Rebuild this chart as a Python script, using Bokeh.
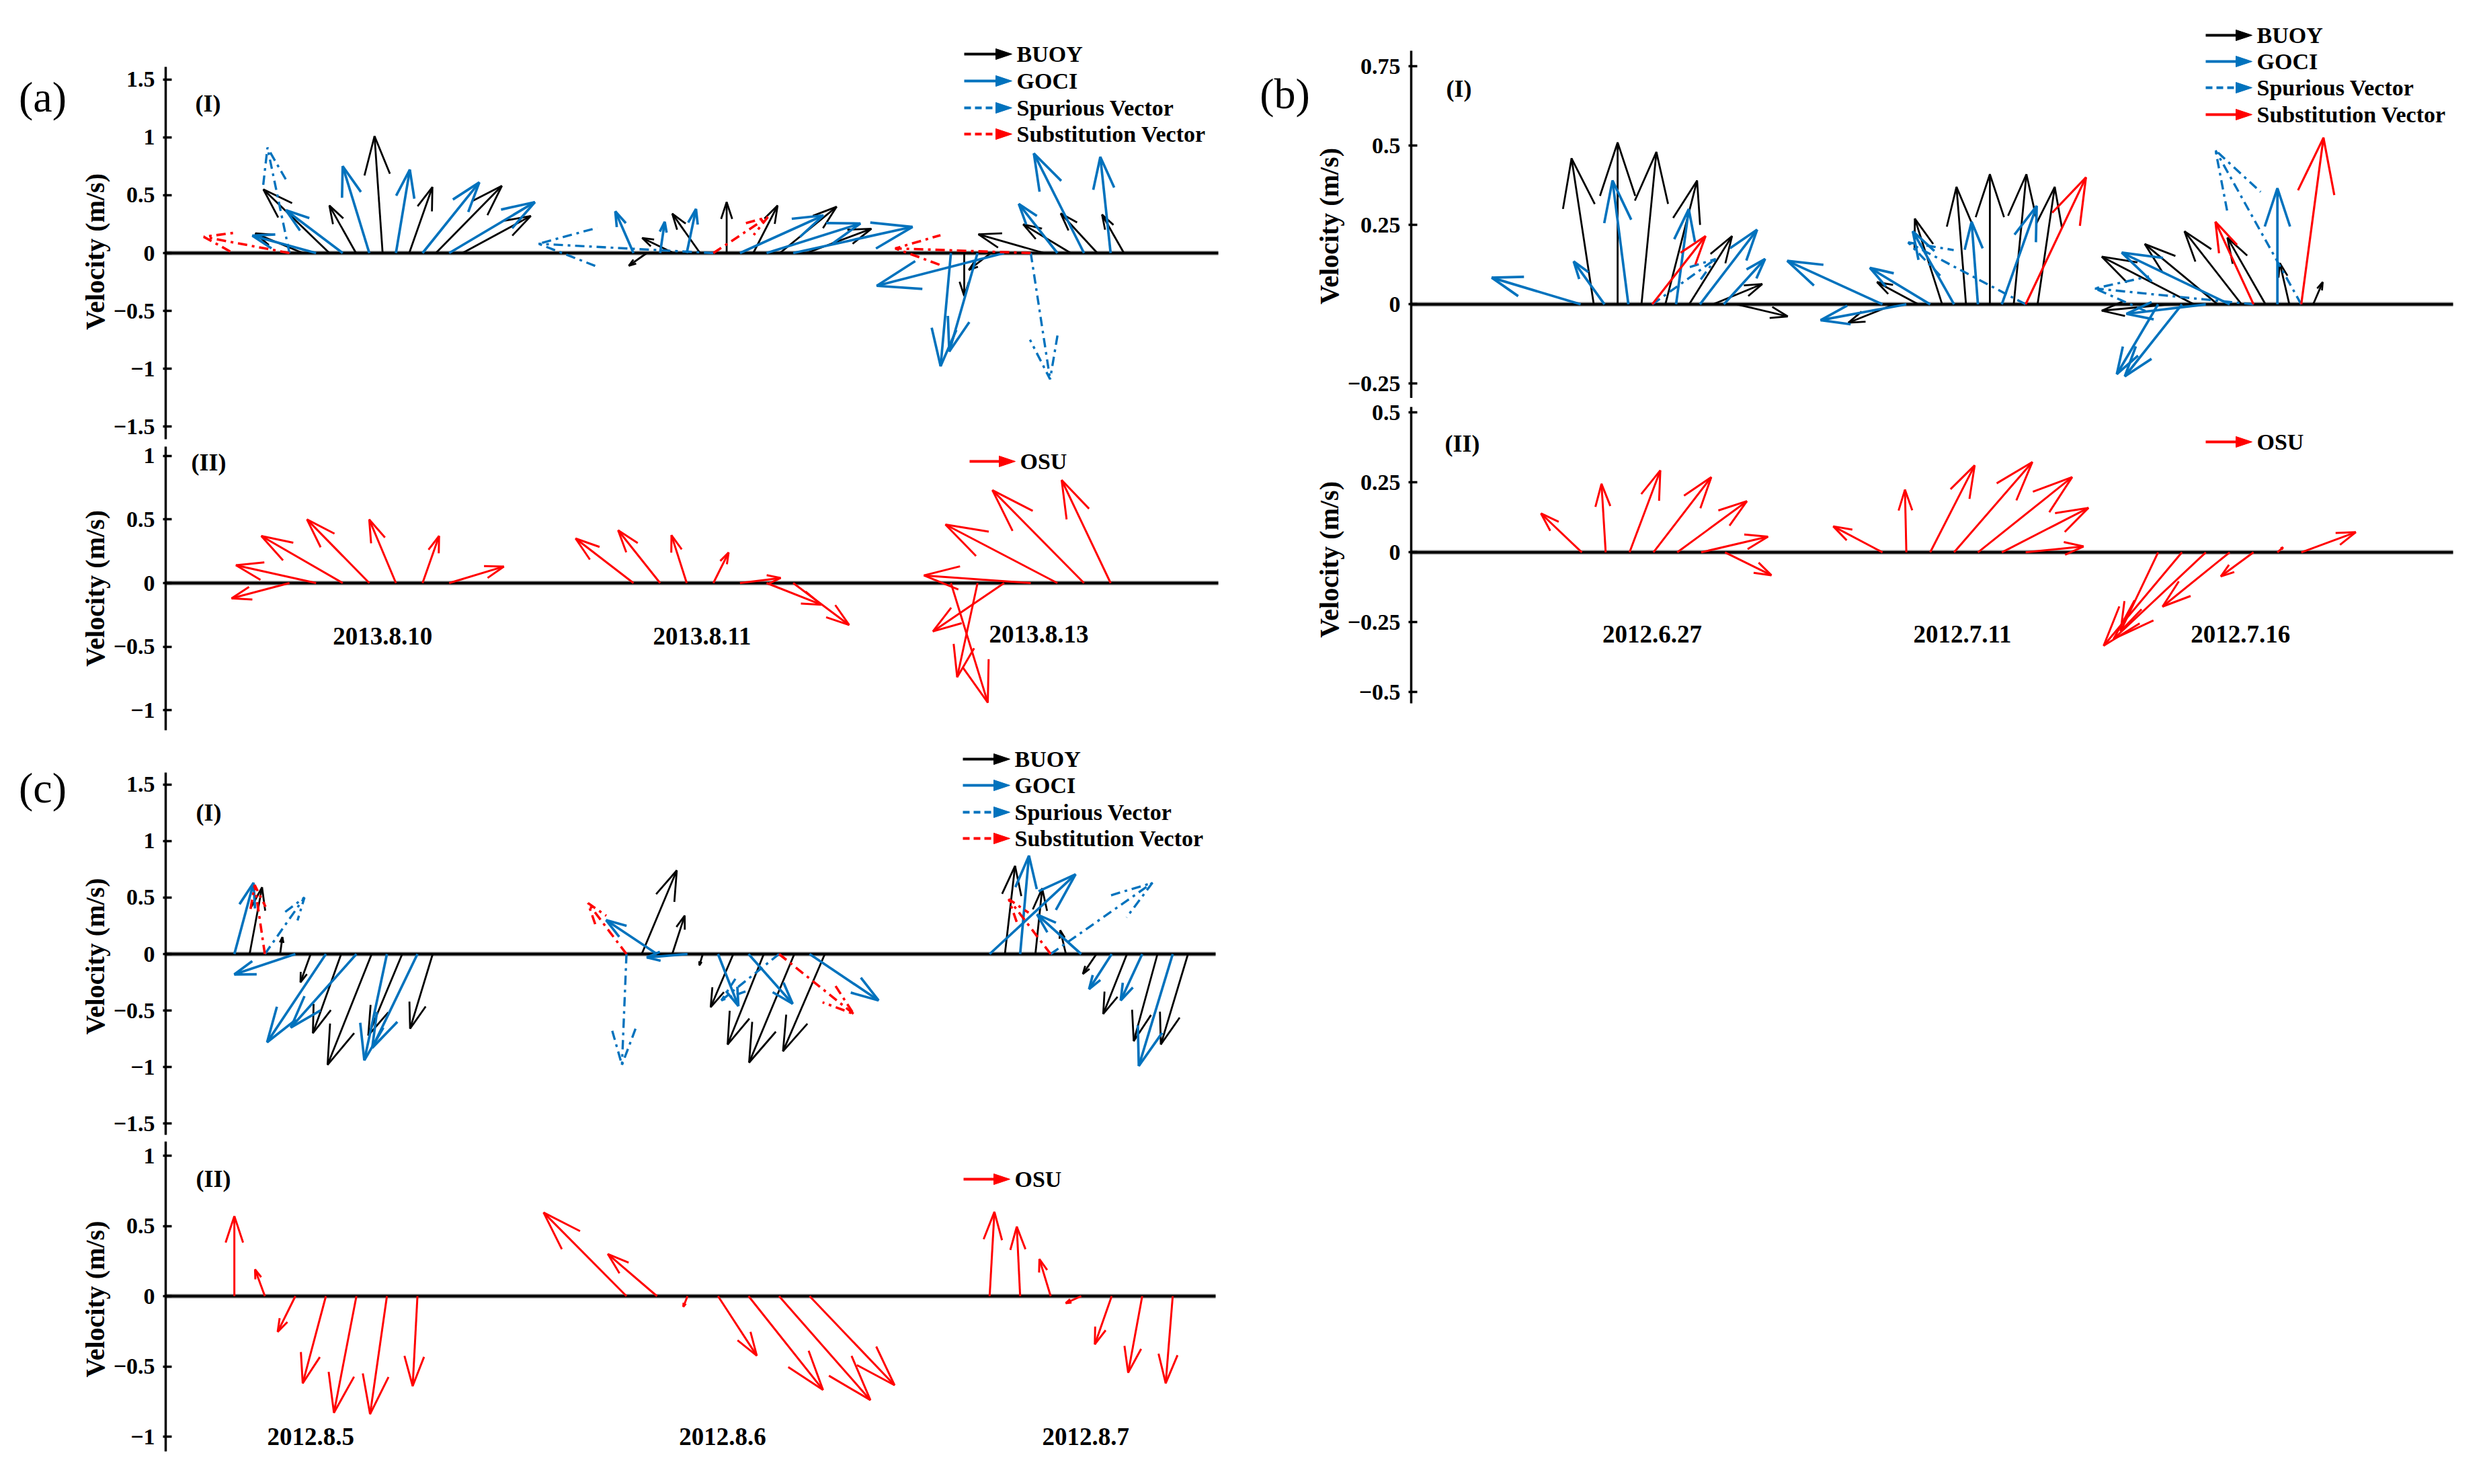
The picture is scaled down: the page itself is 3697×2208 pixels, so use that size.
from bokeh.plotting import figure
from bokeh.models import Range1d, FixedTicker
from bokeh.layouts import row, column
from bokeh.embed import file_html
from bokeh.resources import INLINE
from bokeh.core.properties import value

FONT = "Liberation Serif"
BLUE = "#0072BD"
RED = "#FF0000"
BLACK = "#000000"

# ------------------------------------------------------------------ data
# (a) 2013.8.10 / 2013.8.11 / 2013.8.13  -- vector origins (time index), u, v (m/s)
A1_BUOY_T = [10, 12, 14, 16, 18, 20, 22, 35.85, 37.85, 39.85, 41.85, 43.85, 45.85, 47.85,
             59.7, 61.7, 65.7, 67.7, 69.7, 71.7]
A1_BUOY_U = [-0.41, -0.57, -0.23, -0.07, 0.20, 0.57, 0.59, -0.155, -0.27, -0.24, 0.00, 0.21, 0.49, 0.56,
             0.00, -0.19, -0.567, -0.41, -0.316, -0.189]
A1_BUOY_V = [0.17, 0.55, 0.41, 1.01, 0.57, 0.58, 0.32, -0.11, 0.13, 0.34, 0.44, 0.41, 0.40, 0.21,
             -0.37, -0.146, 0.162, 0.248, 0.342, 0.332]
A1_GOCI_T = [11, 13, 15, 17, 19, 21, 34.85, 36.85, 38.85, 42.85, 44.85, 46.85,
             58.7, 60.7, 62.7, 66.7, 68.7, 70.7]
A1_GOCI_U = [-0.55, -0.49, -0.23, 0.12, 0.49, 0.74, -0.157, 0.04, 0.08, 0.72, 0.81, 1.03,
             -0.089, -0.244, -1.10, -0.333, -0.433, -0.089]
A1_GOCI_V = [0.15, 0.37, 0.75, 0.72, 0.61, 0.44, 0.36, 0.27, 0.38, 0.325, 0.255, 0.226,
             -0.977, -0.85, -0.283, 0.424, 0.86, 0.83]
A1_SPUR_T = [9, 40.85, 64.7]
A1_SPUR_U = [-0.19, -1.51, 0.167]
A1_SPUR_V = [0.91, 0.08, -1.09]
A1_SUBS_T = [9, 40.85, 64.7]
A1_SUBS_U = [-0.74, 0.47, -1.17]
A1_SUBS_V = [0.14, 0.31, 0.04]
A2_OSU_T = [9, 11, 13, 15, 17, 19, 21, 34.85, 36.85, 38.85, 40.85, 42.85, 44.85, 46.85,
            58.7, 60.7, 62.7, 64.7, 66.7, 68.7, 70.7]
A2_OSU_U = [-0.455, -0.63, -0.64, -0.49, -0.21, 0.13, 0.43, -0.455, -0.33, -0.12, 0.12, 0.32, 0.43, 0.44,
            0.29, -0.16, -0.56, -0.84, -0.88, -0.72, -0.385]
A2_OSU_V = [-0.12, 0.14, 0.37, 0.50, 0.50, 0.37, 0.13, 0.35, 0.415, 0.376, 0.24, 0.04, -0.17, -0.33,
            -0.94, -0.74, -0.38, 0.06, 0.46, 0.73, 0.81]
A_DATES = ["2013.8.10", "2013.8.11", "2013.8.13"]
A_DATE_T = [16.0, 40.0, 65.3]
A_DATE_V = [-0.42, -0.42, -0.40]

# (b) 2012.6.27 / 2012.7.11 / 2012.7.16
B1_BUOY_T = [15.3, 17.3, 19.3, 21.3, 23.3, 25.3, 27.3, 40.5, 42.5, 44.5, 46.5, 48.5, 50.5, 52.5,
             63.6, 65.6, 67.6, 69.6, 71.6, 73.6, 75.6]
B1_BUOY_U = [-0.07, 0.0, 0.047, 0.10, 0.135, 0.155, 0.16, -0.145, -0.13, -0.086, -0.03, 0.0, 0.04, 0.054,
             -0.215, -0.29, -0.23, -0.18, -0.12, -0.03, 0.03]
B1_BUOY_V = [0.46, 0.51, 0.48, 0.39, 0.215, 0.064, -0.038, -0.058, 0.07, 0.27, 0.37, 0.41, 0.41, 0.37,
             -0.02, 0.15, 0.19, 0.23, 0.21, 0.13, 0.07]
B1_GOCI_T = [14.2, 16.2, 18.2, 22.2, 24.2, 26.2, 39.5, 41.5, 43.5, 45.5, 47.5, 49.5,
             62.6, 64.6, 66.6, 68.6, 72.6]
B1_GOCI_U = [-0.28, -0.097, -0.05, 0.04, 0.18, 0.13, -0.30, -0.27, -0.19, -0.13, -0.02, 0.11,
             -0.13, -0.18, -0.25, -0.34, 0.0]
B1_GOCI_V = [0.084, 0.135, 0.39, 0.30, 0.235, 0.143, 0.137, -0.05, 0.115, 0.23, 0.26, 0.31,
             -0.22, -0.227, -0.03, 0.163, 0.366]
B1_SPUR_T = [20.2, 51.5, 70.6, 74.6]
B1_SPUR_U = [0.20, -0.37, -0.50, -0.27]
B1_SPUR_V = [0.143, 0.195, 0.05, 0.485]
B1_SUBS_T = [20.2, 51.5, 70.6, 74.6]
B1_SUBS_U = [0.168, 0.19, -0.12, 0.07]
B1_SUBS_V = [0.215, 0.40, 0.26, 0.525]
B2_OSU_T = [14.3, 16.3, 18.3, 20.3, 22.3, 24.3, 26.3, 39.5, 41.5, 43.5, 45.5, 47.5, 49.5, 51.5,
            62.6, 64.6, 66.6, 68.6, 70.6, 72.6, 74.6]
B2_OSU_U = [-0.146, -0.015, 0.11, 0.207, 0.249, 0.239, 0.166, -0.176, -0.005, 0.159, 0.28, 0.337, 0.31, 0.207,
            -0.134, -0.28, -0.33, -0.24, -0.117, 0.02, 0.195]
B2_OSU_V = [0.139, 0.245, 0.293, 0.269, 0.183, 0.056, -0.082, 0.093, 0.224, 0.311, 0.323, 0.269, 0.159, 0.021,
            -0.282, -0.334, -0.31, -0.194, -0.086, 0.018, 0.072]
B_DATES = ["2012.6.27", "2012.7.11", "2012.7.16"]
B_DATE_T = [20.2, 46.2, 69.5]
B_DATE_V = [-0.293, -0.293, -0.293]

# (c) 2012.8.5 / 2012.8.6 / 2012.8.7
C1_BUOY_T = [5.5, 7.5, 9.5, 11.5, 13.5, 15.5, 17.5, 31.2, 33.2, 35.2, 37.2, 39.2, 41.2, 43.2,
             55, 57, 59, 61, 63, 65, 67]
C1_BUOY_U = [0.11, 0.02, -0.09, -0.25, -0.39, -0.30, -0.20, 0.31, 0.11, -0.03, -0.20, -0.32, -0.40, -0.37,
             0.09, 0.06, -0.05, -0.12, -0.21, -0.21, -0.24]
C1_BUOY_V = [0.59, 0.15, -0.25, -0.70, -0.98, -0.72, -0.66, 0.74, 0.34, -0.10, -0.47, -0.80, -0.96, -0.86,
             0.78, 0.58, 0.21, -0.176, -0.53, -0.77, -0.80]
C1_GOCI_T = [4.5, 8.5, 10.5, 12.5, 14.5, 16.5, 32.2, 34.2, 36.2, 38.2, 42.2, 54, 56, 60, 62, 64, 66]
C1_GOCI_U = [0.17, -0.54, -0.52, -0.58, -0.20, -0.40, -0.45, -0.36, 0.18, 0.39, 0.61,
             0.76, 0.078, -0.39, -0.20, -0.19, -0.30]
C1_GOCI_V = [0.63, -0.18, -0.78, -0.65, -0.94, -0.83, 0.30, -0.03, -0.46, -0.44, -0.41,
             0.705, 0.87, 0.35, -0.31, -0.41, -0.99]
C1_SPUR_T = [6.5, 30.2, 40.2, 58]
C1_SPUR_U = [0.35, -0.04, -0.51, 0.90]
C1_SPUR_V = [0.50, -0.98, -0.41, 0.63]
C1_SUBS_T = [6.5, 30.2, 40.2, 58]
C1_SUBS_U = [-0.09, -0.34, 0.66, -0.37]
C1_SUBS_V = [0.61, 0.45, -0.53, 0.485]
C2_OSU_T = [4.5, 6.5, 8.5, 10.5, 12.5, 14.5, 16.5, 30.2, 32.2, 34.2, 36.2, 38.2, 40.2, 42.2,
            54, 56, 58, 60, 62, 64, 66]
C2_OSU_U = [0.0, -0.07, -0.126, -0.165, -0.16, -0.12, -0.034, -0.59, -0.35, -0.03, 0.276, 0.53, 0.65, 0.605,
            0.034, -0.024, -0.08, -0.11, -0.12, -0.10, -0.05]
C2_OSU_V = [0.57, 0.19, -0.254, -0.62, -0.83, -0.84, -0.64, 0.595, 0.30, -0.076, -0.424, -0.667, -0.74, -0.634,
            0.60, 0.495, 0.264, -0.05, -0.343, -0.545, -0.62]
C_DATES = ["2012.8.5", "2012.8.6", "2012.8.7"]
C_DATE_T = [9.5, 36.5, 60.3]
C_DATE_V = [-1.0, -1.0, -1.0]

TICKS_15 = [-1.5, -1.0, -0.5, 0.0, 0.5, 1.0, 1.5]
LABELS_15 = ["\u22121.5", "\u22121", "\u22120.5", "0", "0.5", "1", "1.5"]
TICKS_10 = [-1.0, -0.5, 0.0, 0.5, 1.0]
LABELS_10 = ["\u22121", "\u22120.5", "0", "0.5", "1"]
TICKS_B1 = [-0.25, 0.0, 0.25, 0.5, 0.75]
LABELS_B1 = ["\u22120.25", "0", "0.25", "0.5", "0.75"]
TICKS_B2 = [-0.5, -0.25, 0.0, 0.25, 0.5]
LABELS_B2 = ["\u22120.5", "\u22120.25", "0", "0.25", "0.5"]

# ------------------------------------------------------------------ helpers
ALPHA = 0.33
BETA = 0.33
NBSP = "\u00a0"


def make_panel(cx, cy, W, H, frame_left, x0, xpx, base_y, ppu, bounds, ticks, labels, base_end, pad=0):
    L = frame_left - cx
    fw = W - L
    y_top = (base_y - cy) / ppu
    y_bot = -(cy + H - base_y) / ppu
    p = figure(width=W, height=H, x_range=Range1d(x0, x0 + fw / xpx), y_range=Range1d(y_bot, y_top),
               output_backend="svg", toolbar_location=None, x_axis_location=None,
               min_border_left=L, min_border_right=0, min_border_top=0, min_border_bottom=0)
    p.outline_line_color = None
    p.grid.visible = False
    p.background_fill_color = "white"
    ax = p.yaxis[0]
    ax.bounds = bounds
    ax.ticker = FixedTicker(ticks=ticks)
    ax.major_label_overrides = {t: s for t, s in zip(ticks, labels)}
    ax.axis_line_width = 3.5
    ax.axis_line_color = BLACK
    ax.major_tick_line_width = 3.5
    ax.major_tick_in = 9
    ax.major_tick_out = 4
    ax.minor_tick_line_color = None
    ax.major_label_text_font = FONT
    ax.major_label_text_font_style = "bold"
    ax.major_label_text_font_size = "34px"
    ax.major_label_text_color = BLACK
    ax.major_label_standoff = 12
    # trailing no-break spaces move the centred label down to the middle of the drawn axis
    ax.axis_label = "Velocity (m/s)" + NBSP * pad
    ax.axis_label_text_font = FONT
    ax.axis_label_text_font_style = "bold"
    ax.axis_label_text_font_size = "40px"
    ax.axis_label_text_color = BLACK
    ax.axis_label_standoff = 2
    g = dict(frame_left=frame_left, x0=x0, xpx=xpx, base_y=base_y, ppu=ppu)
    # zero line of the stick plot
    xe = x0 + (base_end - frame_left) / xpx
    p.segment([x0], [0], [xe], [0], line_color="#aaaaaa", line_width=7)
    p.segment([x0], [0], [xe], [0], line_color=BLACK, line_width=4)
    return p, g


def px2x(g, X):
    return g["x0"] + (X - g["frame_left"]) / g["xpx"]


def px2y(g, Y):
    return (g["base_y"] - Y) / g["ppu"]


def quiver(p, g, t, u, v, color, width, dash="solid"):
    k = g["ppu"] / g["xpx"]
    xs, ys = [], []
    for ti, ui, vi in zip(t, u, v):
        tx = ti + ui * k
        xs.append([ti, tx])
        ys.append([0.0, vi])
        b1u = ui - ALPHA * (ui + BETA * vi)
        b1v = vi - ALPHA * (vi - BETA * ui)
        b2u = ui - ALPHA * (ui - BETA * vi)
        b2v = vi - ALPHA * (vi + BETA * ui)
        xs.append([ti + b1u * k, tx, ti + b2u * k])
        ys.append([b1v, vi, b2v])
    p.multi_line(xs, ys, line_color=color, line_width=width, line_dash=dash)


def legend_entry(p, g, X0, X1, Y, color, dash, text, width=4.0):
    head = 24
    half = 8
    y = px2y(g, Y)
    p.segment([px2x(g, X0)], [y], [px2x(g, X1 - head * 0.6)], [y], line_color=color,
              line_width=width, line_dash=dash)
    p.patch([px2x(g, X1 - head), px2x(g, X1), px2x(g, X1 - head)],
            [px2y(g, Y - half), y, px2y(g, Y + half)], fill_color=color, line_color=color)
    p.text([px2x(g, X1 + 7)], [y], text=[text], text_font=value(FONT), text_font_style="bold",
           text_font_size="34px", text_baseline="middle", text_align="left", text_color=BLACK)


def tag(p, g, X, Y, text, size="36px", style="bold"):
    p.text([px2x(g, X)], [px2y(g, Y)], text=[text], text_font=value(FONT), text_font_style=style,
           text_font_size=size, text_baseline="middle", text_align="center", text_color=BLACK)


def letter_strip(x0, x1, y0, y1, xs, ys, texts):
    # narrow strip that carries the panel letters, in page pixel coordinates
    p = figure(width=x1 - x0, height=y1 - y0, x_range=Range1d(x0, x1), y_range=Range1d(y1, y0),
               output_backend="svg", toolbar_location=None, x_axis_location=None, y_axis_location=None,
               min_border=0)
    p.outline_line_color = None
    p.grid.visible = False
    p.text(xs, ys, text=texts, text_font=value(FONT), text_font_size="64px",
           text_baseline="middle", text_align="center", text_color=BLACK)
    return p


def dates(p, t, v, names):
    p.text(t, v, text=names, text_font=value(FONT), text_font_style="bold", text_font_size="37px",
           text_baseline="middle", text_align="center", text_color=BLACK)


DASHDOT = "14 7 4 7"
LX = 108      # left edge of the left column of panels
RX = 1957     # left edge of the right column of panels
WL = 1840 - LX
WR = 3689 - RX

# ------------------------------------------------------------------ panel (a)
pa1, ga1 = make_panel(LX, 8, WL, 658, 254, -0.3, 19.8, 384, 172.3, (-1.61, 1.61), TICKS_15, LABELS_15, 1820, pad=9)
quiver(pa1, ga1, A1_BUOY_T, A1_BUOY_U, A1_BUOY_V, BLACK, 2.8)
quiver(pa1, ga1, A1_GOCI_T, A1_GOCI_U, A1_GOCI_V, BLUE, 3.7)
quiver(pa1, ga1, A1_SPUR_T, A1_SPUR_U, A1_SPUR_V, BLUE, 3.4, DASHDOT)
quiver(pa1, ga1, A1_SUBS_T, A1_SUBS_U, A1_SUBS_V, RED, 3.6, DASHDOT)
legend_entry(pa1, ga1, 1442, 1513, 88, BLACK, "solid", "BUOY")
legend_entry(pa1, ga1, 1442, 1513, 128, BLUE, "solid", "GOCI")
legend_entry(pa1, ga1, 1442, 1513, 168, BLUE, "10 6", "Spurious Vector")
legend_entry(pa1, ga1, 1442, 1513, 207, RED, "10 6", "Substitution Vector")
tag(pa1, ga1, 317, 161, "(I)")

pa2, ga2 = make_panel(LX, 666, WL, 434, 254, -0.3, 19.8, 875, 189.2, (-1.16, 1.075), TICKS_10, LABELS_10, 1820)
quiver(pa2, ga2, A2_OSU_T, A2_OSU_U, A2_OSU_V, RED, 3.0)
legend_entry(pa2, ga2, 1450, 1518, 694, RED, "solid", "OSU")
tag(pa2, ga2, 318, 695, "(II)")
dates(pa2, A_DATE_T, A_DATE_V, A_DATES)

# ------------------------------------------------------------------ panel (c)
pc1, gc1 = make_panel(LX, 1100, WL, 601, 254, 0.0, 22.7, 1427, 168.2, (-1.6, 1.605), TICKS_15, LABELS_15, 1816, pad=6)
quiver(pc1, gc1, C1_BUOY_T, C1_BUOY_U, C1_BUOY_V, BLACK, 2.8)
quiver(pc1, gc1, C1_GOCI_T, C1_GOCI_U, C1_GOCI_V, BLUE, 3.7)
quiver(pc1, gc1, C1_SPUR_T, C1_SPUR_U, C1_SPUR_V, BLUE, 3.4, DASHDOT)
quiver(pc1, gc1, C1_SUBS_T, C1_SUBS_U, C1_SUBS_V, RED, 3.6, DASHDOT)
legend_entry(pc1, gc1, 1440, 1510, 1137, BLACK, "solid", "BUOY")
legend_entry(pc1, gc1, 1440, 1510, 1176, BLUE, "solid", "GOCI")
legend_entry(pc1, gc1, 1440, 1510, 1216, BLUE, "10 6", "Spurious Vector")
legend_entry(pc1, gc1, 1440, 1510, 1255, RED, "10 6", "Substitution Vector")
tag(pc1, gc1, 318, 1216, "(I)")

pc2, gc2 = make_panel(LX, 1701, WL, 479, 254, 0.0, 22.7, 1936, 209.0, (-1.105, 1.10), TICKS_10, LABELS_10, 1816)
quiver(pc2, gc2, C2_OSU_T, C2_OSU_U, C2_OSU_V, RED, 3.0)
legend_entry(pc2, gc2, 1441, 1510, 1762, RED, "solid", "OSU")
tag(pc2, gc2, 325, 1761, "(II)")
dates(pc2, C_DATE_T, C_DATE_V, C_DATES)

# ------------------------------------------------------------------ panel (b)
pb1, gb1 = make_panel(RX, 8, WR, 592, 2107, 0.0, 17.75, 460.3, 472.2, (-0.296, 0.80), TICKS_B1, LABELS_B1, 3657, pad=8)
quiver(pb1, gb1, B1_BUOY_T, B1_BUOY_U, B1_BUOY_V, BLACK, 2.8)
quiver(pb1, gb1, B1_GOCI_T, B1_GOCI_U, B1_GOCI_V, BLUE, 3.7)
quiver(pb1, gb1, B1_SPUR_T, B1_SPUR_U, B1_SPUR_V, BLUE, 3.4, DASHDOT)
quiver(pb1, gb1, B1_SUBS_T, B1_SUBS_U, B1_SUBS_V, RED, 3.2)
legend_entry(pb1, gb1, 3289, 3358, 60, BLACK, "solid", "BUOY")
legend_entry(pb1, gb1, 3289, 3358, 99, BLUE, "solid", "GOCI")
legend_entry(pb1, gb1, 3289, 3358, 138, BLUE, "10 6", "Spurious Vector")
legend_entry(pb1, gb1, 3289, 3358, 178, RED, "solid", "Substitution Vector")
tag(pb1, gb1, 2178, 139, "(I)")

pb2, gb2 = make_panel(RX, 600, WR, 480, 2107, 0.0, 17.75, 829.3, 416.0, (-0.54, 0.52), TICKS_B2, LABELS_B2, 3657)
quiver(pb2, gb2, B2_OSU_T, B2_OSU_U, B2_OSU_V, RED, 3.0)
legend_entry(pb2, gb2, 3289, 3358, 665, RED, "solid", "OSU")
tag(pb2, gb2, 2183, 667, "(II)")
dates(pb2, B_DATE_T, B_DATE_V, B_DATES)

strip_left = letter_strip(8, LX, 8, 2180, [71, 71], [152, 1180], ["(a)", "(c)"])
strip_right = letter_strip(1840, RX, 8, 1080, [1919], [147], ["(b)"])

layout = row(strip_left, column(pa1, pa2, pc1, pc2), strip_right, column(pb1, pb2))
open("out.html", "w").write(file_html(layout, INLINE))
